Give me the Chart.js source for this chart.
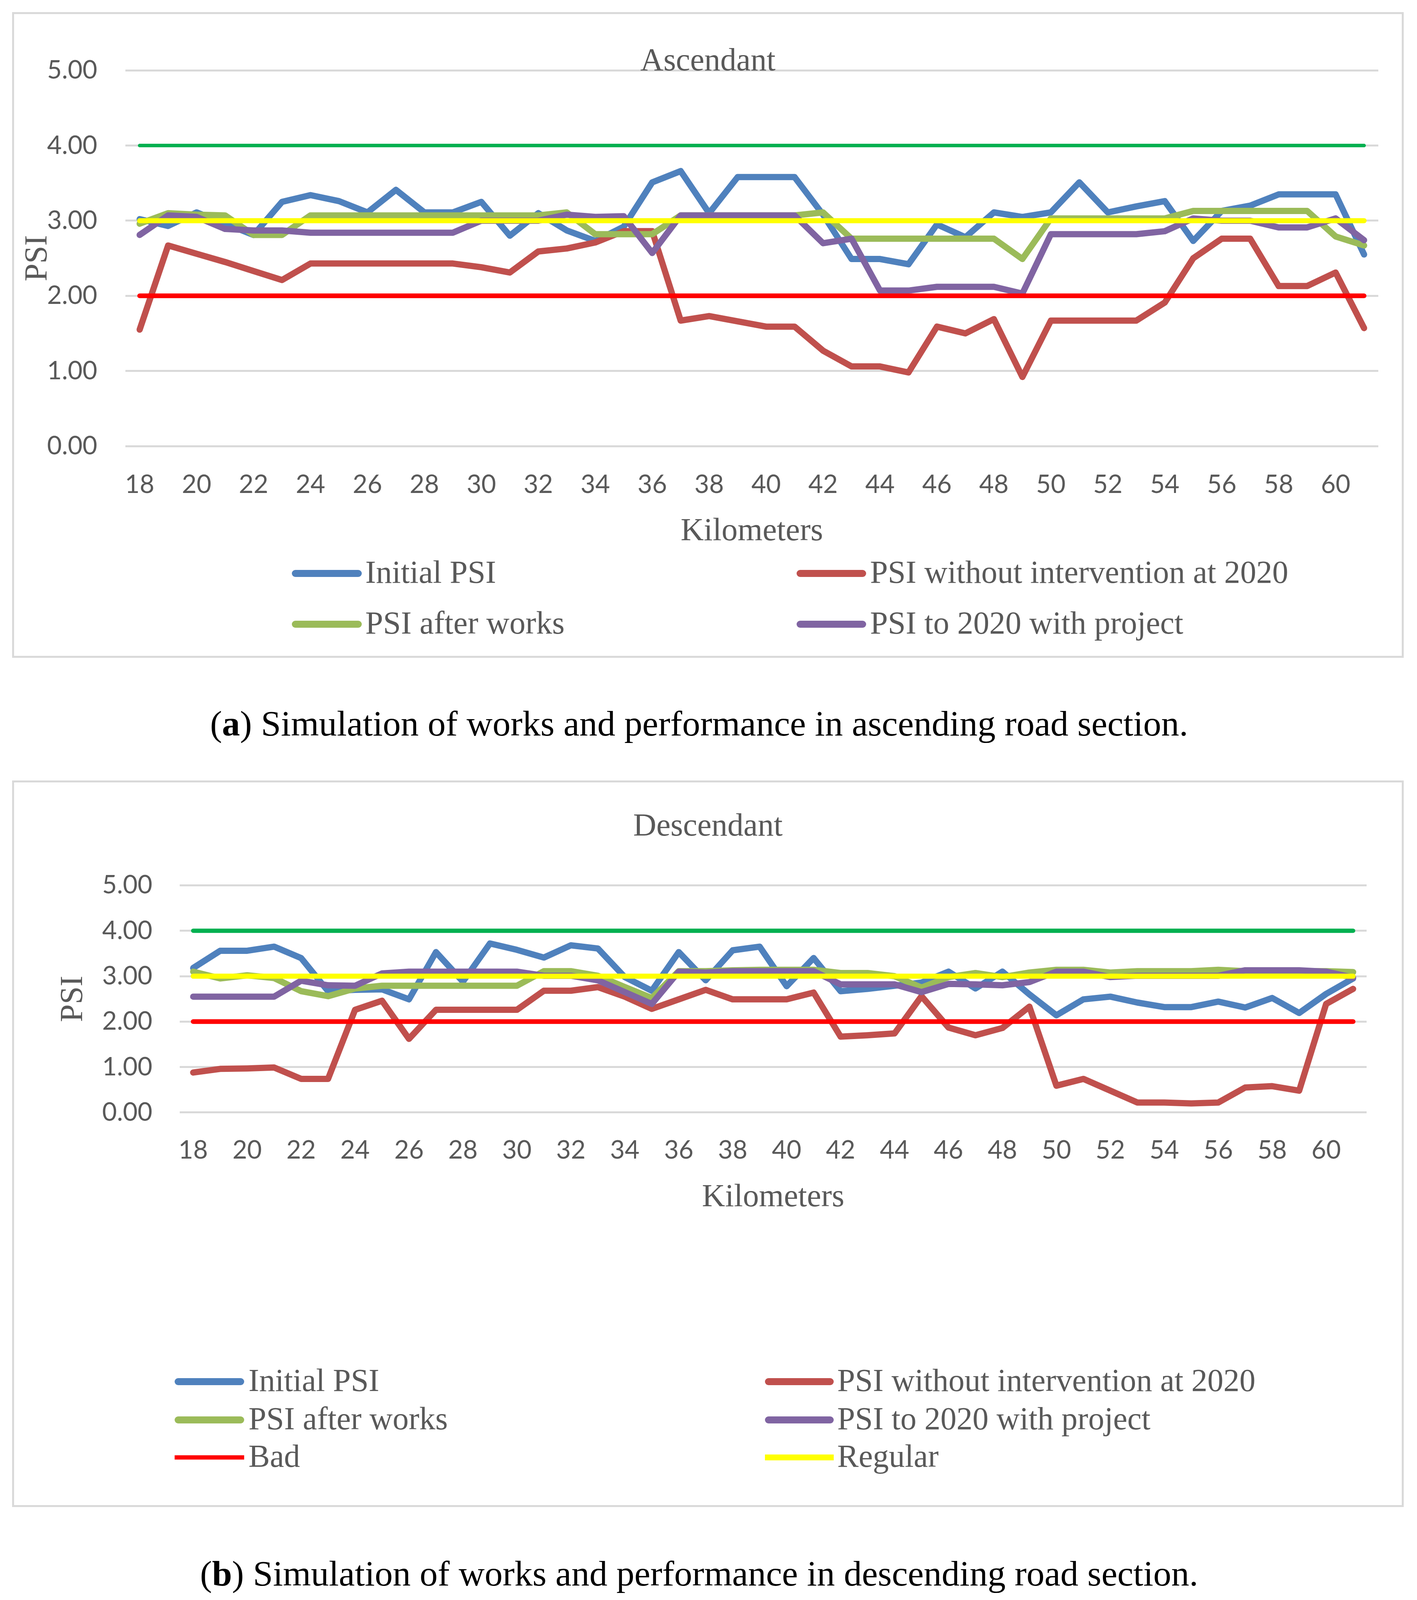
<!DOCTYPE html>
<html><head><meta charset="utf-8">
<script src="https://cdn.jsdelivr.net/npm/chart.js"></script>
<style>
html,body{margin:0;padding:0;background:#fff;}
body{width:3627px;height:4100px;position:relative;overflow:hidden;}
.panel{position:absolute;left:31px;width:3562px;border:5px solid #d9d9d9;box-sizing:border-box;background:#fff;}
#pa{top:31px;height:1653px;}
#pb{top:1998px;height:1860px;}
.panel canvas{display:block;}
.cap{position:absolute;left:0;width:3579px;text-align:center;font-family:"Liberation Serif",serif;font-size:92px;line-height:92px;color:#000;white-space:nowrap;}
</style></head><body>
<div class="panel" id="pa"><canvas id="ca" width="3552" height="1643"></canvas></div>
<div class="cap" style="top:1806px">(<b>a</b>) Simulation of works and performance in ascending road section.</div>
<div class="panel" id="pb"><canvas id="cb" width="3552" height="1850"></canvas></div>
<div class="cap" style="top:3982px">(<b>b</b>) Simulation of works and performance in descending road section.</div>
<script>
// ---- data ----
const kmLabels = ['18','19','20','21','22','23','24','25','26','27','28','29','30','31','32','33','34','35','36','37','38','39','40','41','42','43','44','45','46','47','48','49','50','51','52','53','54','55','56','57','58','59','60','61'];

// Ascendant
const ascInitial = [3.02,2.93,3.11,2.96,2.81,3.25,3.34,3.26,3.11,3.41,3.11,3.11,3.25,2.80,3.10,2.87,2.73,2.92,3.51,3.66,3.10,3.58,3.58,3.58,3.08,2.49,2.49,2.42,2.95,2.78,3.11,3.05,3.11,3.51,3.11,3.19,3.26,2.73,3.13,3.20,3.35,3.35,3.35,2.55];
const ascNoIntervention = [1.55,2.67,2.56,2.45,2.33,2.21,2.43,2.43,2.43,2.43,2.43,2.43,2.38,2.31,2.59,2.63,2.71,2.86,2.86,1.67,1.73,1.66,1.59,1.59,1.27,1.06,1.06,0.98,1.59,1.50,1.69,0.92,1.67,1.67,1.67,1.67,1.91,2.50,2.76,2.76,2.13,2.13,2.31,1.57];
const ascAfterWorks = [2.96,3.10,3.08,3.07,2.81,2.81,3.07,3.07,3.07,3.07,3.07,3.07,3.07,3.07,3.07,3.11,2.82,2.82,2.82,3.07,3.07,3.07,3.07,3.07,3.11,2.76,2.76,2.76,2.76,2.76,2.76,2.49,3.03,3.03,3.03,3.03,3.03,3.13,3.13,3.13,3.13,3.13,2.79,2.67];
const ascWithProject = [2.81,3.07,3.05,2.89,2.87,2.87,2.84,2.84,2.84,2.84,2.84,2.84,3.00,3.00,3.00,3.08,3.05,3.06,2.57,3.07,3.07,3.07,3.07,3.07,2.70,2.76,2.07,2.07,2.12,2.12,2.12,2.03,2.82,2.82,2.82,2.82,2.86,3.03,3.00,3.00,2.91,2.91,3.03,2.74];

// Descendant
const descInitial = [3.18,3.56,3.56,3.65,3.40,2.67,2.70,2.71,2.49,3.53,2.88,3.72,3.58,3.41,3.68,3.61,2.98,2.68,3.53,2.91,3.57,3.65,2.78,3.40,2.67,2.72,2.79,2.86,3.10,2.73,3.10,2.60,2.14,2.49,2.55,2.42,2.32,2.32,2.44,2.31,2.52,2.19,2.61,2.95];
const descNoIntervention = [0.88,0.96,0.97,0.99,0.74,0.74,2.26,2.46,1.62,2.26,2.26,2.26,2.26,2.68,2.68,2.76,2.55,2.28,2.49,2.70,2.49,2.49,2.49,2.64,1.67,1.70,1.74,2.56,1.87,1.70,1.86,2.33,0.59,0.74,0.48,0.22,0.22,0.20,0.22,0.55,0.58,0.48,2.39,2.72];
const descAfterWorks = [3.10,2.95,3.02,2.96,2.67,2.56,2.73,2.79,2.79,2.79,2.79,2.79,2.79,3.11,3.11,3.01,2.76,2.52,3.11,3.11,3.13,3.14,3.14,3.14,3.07,3.07,3.00,2.75,2.98,3.07,2.98,3.08,3.14,3.14,3.08,3.11,3.11,3.11,3.14,3.11,3.11,3.11,3.11,3.09];
const descWithProject = [2.55,2.55,2.55,2.55,2.90,2.80,2.79,3.06,3.10,3.10,3.10,3.10,3.10,3.01,3.01,2.91,2.65,2.39,3.10,3.08,3.11,3.11,3.11,3.11,2.82,2.82,2.82,2.65,2.83,2.82,2.80,2.87,3.10,3.10,2.98,3.01,3.01,3.01,3.01,3.13,3.13,3.13,3.10,2.97];

// PSI condition thresholds
const levelBad = 2.00;
const levelRegular = 3.00;
const levelGood = 4.00;

const seriesNames = ['Initial PSI','PSI without intervention at 2020','PSI after works','PSI to 2020 with project','Bad','Regular','Good'];
const yTickStep = 1;

// ---- styling ----
const COL = {blue:'#4F81BD', red:'#C0504D', green:'#9BBB59', purple:'#8064A2', bad:'#FF0000', regular:'#FFFF00', good:'#00B050'};
const TXT = '#595959';
const SERIF = '"Liberation Serif", serif';
const SANS = 'Lato, "Open Sans", sans-serif';

function line(label, data, color, width) {
  return {label, data, borderColor: color, backgroundColor: color, borderWidth: width,
    pointRadius: 0, pointHoverRadius: 0, tension: 0, fill: false,
    borderJoinStyle: 'round', borderCapStyle: 'round', yAxisID: 'y'};
}

const psiLegend = {
  id: 'psiLegend',
  afterDraw(chart, args, o) {
    if (!o || !o.items) return;
    const ctx = chart.ctx;
    ctx.save();
    ctx.font = o.fontSize + 'px ' + SERIF;
    ctx.textBaseline = 'middle';
    ctx.textAlign = 'left';
    o.items.forEach(it => {
      const ds = chart.data.datasets[it.dataset];
      const y = o.rows[it.row];
      const c = o.cols[it.col];
      ctx.strokeStyle = ds.borderColor;
      ctx.lineWidth = it.lineWidth;
      ctx.lineCap = it.cap;
      const inset = it.cap === 'round' ? it.lineWidth / 2 : 0;
      ctx.beginPath();
      ctx.moveTo(c.x0 + inset, y);
      ctx.lineTo(c.x1 - inset, y);
      ctx.stroke();
      ctx.fillStyle = TXT;
      ctx.fillText(ds.label, c.text, y + 2);
    });
    ctx.restore();
  }
};

function makeChart(id, title, vals, lw, p, legendItems) {
  const datasets = [
    line(seriesNames[0], vals[0], COL.blue, lw.series),
    line(seriesNames[1], vals[1], COL.red, lw.series),
    line(seriesNames[2], vals[2], COL.green, lw.series),
    line(seriesNames[3], vals[3], COL.purple, lw.series),
    line(seriesNames[4], kmLabels.map(() => levelBad), COL.bad, lw.bad),
    line(seriesNames[5], kmLabels.map(() => levelRegular), COL.regular, lw.regular),
    line(seriesNames[6], kmLabels.map(() => levelGood), COL.good, lw.good)
  ];
  datasets.forEach((d, i) => { d.order = datasets.length - i; });
  return new Chart(document.getElementById(id), {
    type: 'line',
    data: {labels: kmLabels, datasets},
    plugins: [psiLegend],
    options: {
      responsive: false, animation: false, devicePixelRatio: 1,
      layout: {padding: {left: 0, right: 0, top: 0, bottom: p.padBottom}},
      plugins: {
        legend: {display: false},
        tooltip: {enabled: false},
        title: {display: true, text: title, color: TXT, font: {family: SERIF, size: 82, weight: 'normal', lineHeight: p.titleLH},
                padding: {top: p.titleTop, bottom: p.titleBottom}},
        psiLegend: {fontSize: 82, rows: p.legendRows, cols: p.legendCols, items: legendItems}
      },
      scales: {
        x: {
          type: 'category', offset: true,
          grid: {display: false, drawTicks: false}, border: {display: false},
          ticks: {autoSkip: false, maxRotation: 0, minRotation: 0, padding: p.xTickPad, color: TXT,
                  font: {family: SANS, size: 65},
                  callback: function(v, i) { return i % 2 === 0 ? kmLabels[i] : ''; }},
          title: {display: true, text: 'Kilometers', color: TXT, font: {family: SERIF, size: 82}, padding: {top: 0, bottom: 0}},
          afterFit: s => { s.height = p.xAxisH; }
        },
        y: {
          position: 'left', min: 0, max: 5,
          grid: {color: '#d9d9d9', lineWidth: 5, drawTicks: false}, border: {display: false},
          ticks: {stepSize: yTickStep, padding: p.yTickPad, color: TXT, font: {family: SANS, size: 65},
                  callback: v => Number(v).toFixed(2)},
          title: {display: true, text: 'PSI', color: TXT, font: {family: SERIF, size: 82}, padding: {top: p.yTitlePad, bottom: 0}},
          afterFit: s => { s.width = p.yAxisW; }
        },
        yRight: {
          position: 'right', min: 0, max: 5,
          grid: {display: false, drawTicks: false}, border: {display: false},
          ticks: {display: false},
          afterFit: s => { s.width = p.rightW; }
        }
      }
    }
  });
}

makeChart('ca', 'Ascendant', [ascInitial, ascNoIntervention, ascAfterWorks, ascWithProject],
  {series: 16, bad: 12, regular: 13, good: 9},
  {rightW: 60, padBottom: 268, titleLH: 0.6, titleTop: 98, titleBottom: -3, xTickPad: 60, xAxisH: 269, yTickPad: 72, yAxisW: 285, yTitlePad: 12,
   legendRows: [1432, 1562], legendCols: [{x0: 711, x1: 890, text: 899}, {x0: 2003, x1: 2181, text: 2191}]},
  [{dataset: 0, row: 0, col: 0, lineWidth: 18, cap: 'round'},
   {dataset: 1, row: 0, col: 1, lineWidth: 18, cap: 'round'},
   {dataset: 2, row: 1, col: 0, lineWidth: 18, cap: 'round'},
   {dataset: 3, row: 1, col: 1, lineWidth: 18, cap: 'round'}]);

makeChart('cb', 'Descendant', [descInitial, descNoIntervention, descAfterWorks, descWithProject],
  {series: 16, bad: 12, regular: 13, good: 11},
  {rightW: 90, padBottom: 737, titleLH: 1.2, titleTop: 65, titleBottom: 100, xTickPad: 58, xAxisH: 268, yTickPad: 70, yAxisW: 424, yTitlePad: 103,
   legendRows: [1534, 1632, 1728], legendCols: [{x0: 411, x1: 589, text: 600}, {x0: 1922, x1: 2098, text: 2107}]},
  [{dataset: 0, row: 0, col: 0, lineWidth: 18, cap: 'round'},
   {dataset: 1, row: 0, col: 1, lineWidth: 18, cap: 'round'},
   {dataset: 2, row: 1, col: 0, lineWidth: 18, cap: 'round'},
   {dataset: 3, row: 1, col: 1, lineWidth: 18, cap: 'round'},
   {dataset: 4, row: 2, col: 0, lineWidth: 11, cap: 'butt'},
   {dataset: 5, row: 2, col: 1, lineWidth: 15, cap: 'butt'}]);
</script>
</body></html>
